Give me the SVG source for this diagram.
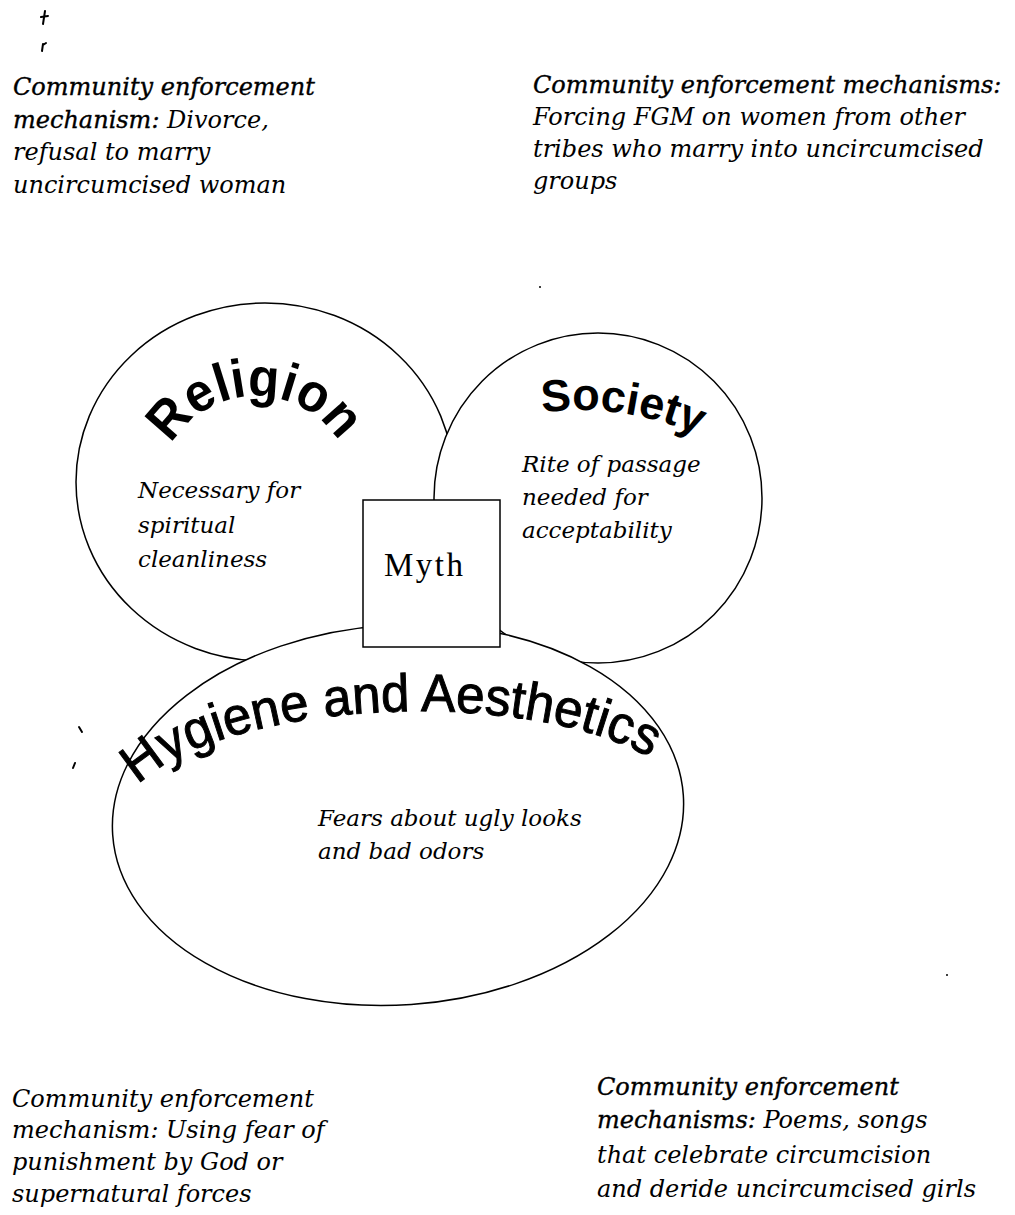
<svg xmlns="http://www.w3.org/2000/svg" width="1015" height="1215" viewBox="0 0 1015 1215">
  <style>
    .shape { fill: #fff; stroke: #000; stroke-width: 1.5; }
    .note { font-family: "DejaVu Serif", "Liberation Serif", serif; font-style: italic; font-size: 24px; fill: #000; }
    .inner { font-family: "DejaVu Serif", "Liberation Serif", serif; font-style: italic; font-size: 23px; fill: #000; }
    .lbl { stroke: #000; stroke-width: 0.35; }
    .head { font-family: "Liberation Sans", Arial, sans-serif; font-weight: bold; fill: #000; }
    .head2 { font-family: "Liberation Sans", Arial, sans-serif; fill: #000; stroke: #000; stroke-width: 1; }
    .myth { font-family: "Liberation Serif", "Times New Roman", serif; font-size: 33px; letter-spacing: 2.5px; fill: #000; }
    .speck { fill: none; stroke: #000; stroke-width: 2; stroke-linecap: round; }
  </style>
  <defs>
    <path id="arcReligion" d="M 158 494 A 98 98 0 0 1 354 494"/>
    <path id="arcSociety" d="M 540 412.8 A 290 290 0 0 1 712 442"/>
    <path id="arcHygiene" d="M 120 822 A 285 105 0 0 1 690 822" transform="rotate(-1.2 140 780)"/>
  </defs>
  <rect width="1015" height="1215" fill="#fff"/>

  <g id="specks">
    <path class="speck" d="M45 11 L43 24 M41 17 L48 16"/>
    <path class="speck" d="M43 44 L42 51 M43 45 L46 43"/>
    <path class="speck" d="M79 727 L82 732"/>
    <path class="speck" d="M75 763 L73 768"/>
    <circle cx="540" cy="287" r="1" fill="#000"/>
    <circle cx="947" cy="975" r="1" fill="#000"/>
  </g>

  <g id="note-top-left" class="note">
    <text x="13" y="95"><tspan class="lbl">Community enforcement</tspan></text>
    <text x="13" y="128"><tspan class="lbl">mechanism:</tspan> Divorce,</text>
    <text x="13" y="160">refusal to marry</text>
    <text x="13" y="193">uncircumcised woman</text>
  </g>

  <g id="note-top-right" class="note">
    <text x="533" y="93"><tspan class="lbl">Community enforcement mechanisms:</tspan></text>
    <text x="533" y="125">Forcing FGM on women from other</text>
    <text x="533" y="157">tribes who marry into uncircumcised</text>
    <text x="533" y="189">groups</text>
  </g>

  <g id="religion">
    <ellipse class="shape" cx="265" cy="482" rx="189" ry="179"/>
  </g>
  <g id="society">
    <ellipse class="shape" cx="598" cy="498" rx="164" ry="165"/>
  </g>
  <g id="hygiene">
    <ellipse class="shape" cx="398" cy="815" rx="286" ry="190" transform="rotate(-4 398 815)"/>
  </g>
  <g id="myth">
    <rect class="shape" x="363" y="500" width="137" height="147"/>
    <text class="myth" x="384" y="576">Myth</text>
  </g>

  <g id="religion-text">
    <text class="head" font-size="54"><textPath href="#arcReligion" startOffset="52" textLength="200" lengthAdjust="spacingAndGlyphs">Religion</textPath></text>
    <text class="inner" x="138" y="498">Necessary for</text>
    <text class="inner" x="138" y="533">spiritual</text>
    <text class="inner" x="138" y="567">cleanliness</text>
  </g>

  <g id="society-text">
    <text class="head" font-size="45"><textPath href="#arcSociety" startOffset="2">Society</textPath></text>
    <text class="inner" x="522" y="472">Rite of passage</text>
    <text class="inner" x="522" y="505">needed for</text>
    <text class="inner" x="522" y="538">acceptability</text>
  </g>

  <g id="hygiene-text">
    <text class="head2" font-size="53"><textPath href="#arcHygiene" startOffset="42" textLength="534" lengthAdjust="spacingAndGlyphs">Hygiene and Aesthetics</textPath></text>
    <text class="inner" font-size="21" x="318" y="826">Fears about ugly looks</text>
    <text class="inner" font-size="21" x="318" y="859">and bad odors</text>
  </g>

  <g id="connectors"/>

  <g id="note-bottom-left" class="note">
    <text x="12" y="1107">Community enforcement</text>
    <text x="12" y="1138">mechanism: Using fear of</text>
    <text x="12" y="1170">punishment by God or</text>
    <text x="12" y="1202">supernatural forces</text>
  </g>

  <g id="note-bottom-right" class="note">
    <text x="597" y="1095"><tspan class="lbl">Community enforcement</tspan></text>
    <text x="597" y="1128"><tspan class="lbl">mechanisms:</tspan> Poems, songs</text>
    <text x="597" y="1163">that celebrate circumcision</text>
    <text x="597" y="1197">and deride uncircumcised girls</text>
  </g>
</svg>
